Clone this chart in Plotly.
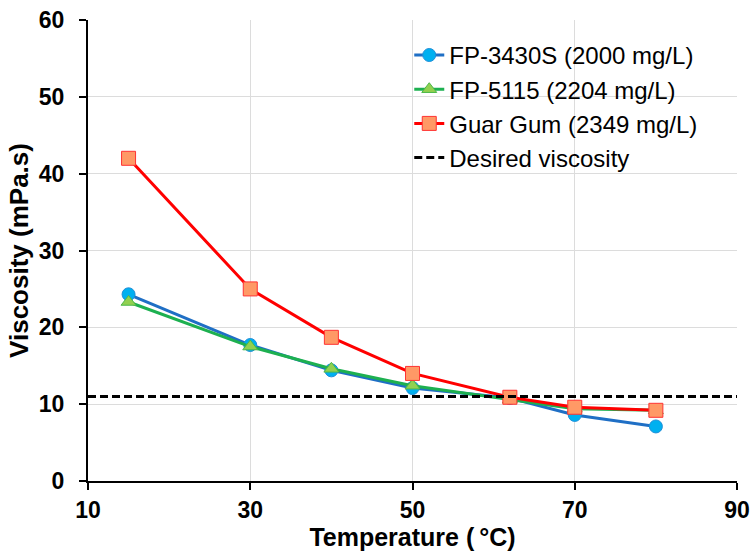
import plotly.graph_objects as go

temps = [15, 30, 40, 50, 62, 70, 80]
fp3430s = [24.3, 17.7, 14.4, 12.1, 10.8, 8.6, 7.1]
fp5115 = [23.3, 17.5, 14.6, 12.4, 10.6, 9.4, 9.2]
guar = [42.0, 25.0, 18.7, 14.0, 10.9, 9.6, 9.2]
desired_x = [10, 90]
desired_y = [11, 11]

fig = go.Figure()
fig.add_trace(go.Scatter(x=temps, y=fp3430s, mode="lines+markers", name="FP-3430S (2000 mg/L)",
                         line=dict(color="#1F6FC5", width=3),
                         marker=dict(symbol="circle", size=13, color="#00B0F0",
                                     line=dict(color="#1F8FD8", width=1))))
fig.add_trace(go.Scatter(x=temps, y=fp5115, mode="lines+markers", name="FP-5115 (2204 mg/L)",
                         line=dict(color="#1DB050", width=3),
                         marker=dict(symbol="triangle-up", size=13, color="#92D050",
                                     line=dict(color="#4CB848", width=1))))
fig.add_trace(go.Scatter(x=temps, y=guar, mode="lines+markers", name="Guar Gum (2349 mg/L)",
                         line=dict(color="#FF0000", width=3),
                         marker=dict(symbol="square", size=14, color="#FF9966",
                                     line=dict(color="#FF3333", width=1))))
fig.add_trace(go.Scatter(x=desired_x, y=desired_y, mode="lines", name="Desired viscosity",
                         line=dict(color="black", width=3, dash="8px,4px")))

fig.update_layout(
    width=751, height=555,
    margin=dict(l=88, r=14, t=20, b=74),
    paper_bgcolor="white", plot_bgcolor="white",
    font=dict(family="Liberation Sans, Arial, sans-serif", color="black"),
    showlegend=True,
    legend=dict(x=0.495, y=0.972, xanchor="left", yanchor="top",
                font=dict(size=24), bgcolor="rgba(0,0,0,0)",
                tracegroupgap=0, itemwidth=30),
)
fig.update_xaxes(range=[10, 90], tickvals=[10, 30, 50, 70, 90],
                 automargin=False,
                 showgrid=True, gridcolor="#DCDCDC", gridwidth=1,
                 showline=True, linecolor="black", linewidth=2,
                 ticks="outside", ticklen=7, tickcolor="black", tickwidth=1.5,
                 tickfont=dict(size=23, family="Liberation Sans, Arial", weight="bold"),
                 title=dict(text="<b>Temperature (\u2009°C)</b>", font=dict(size=25), standoff=3),
                 zeroline=False)
fig.update_yaxes(range=[0, 60], tickvals=[0, 10, 20, 30, 40, 50, 60],
                 automargin=False, ticklabelstandoff=10,
                 showgrid=True, gridcolor="#DCDCDC", gridwidth=1,
                 showline=True, linecolor="black", linewidth=2,
                 ticks="outside", ticklen=7, tickcolor="black", tickwidth=1.5,
                 tickfont=dict(size=23, family="Liberation Sans, Arial", weight="bold"),
                 title=dict(text="<b>Viscosity (mPa.s)</b>", font=dict(size=26), standoff=3),
                 zeroline=False)

fig.write_html("out.html")
